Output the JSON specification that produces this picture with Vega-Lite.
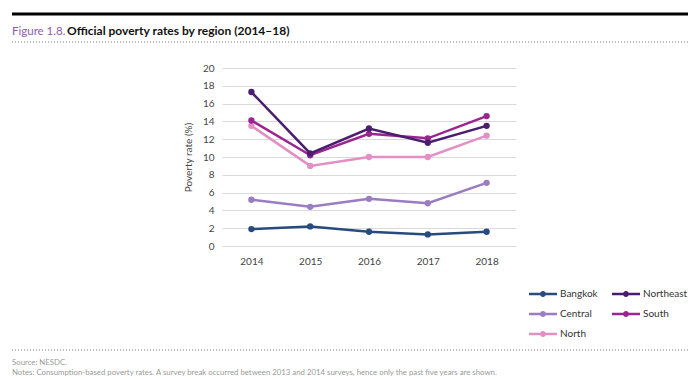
{
  "$schema": "https://vega.github.io/schema/vega-lite/v6.json",
  "background": "white",
  "padding": {"left": 10, "right": 10, "top": 0, "bottom": 0},
  "bounds": "flush",
  "spacing": 0,
  "config": {
    "font": "Lato",
    "view": {"stroke": null},
    "title": {"anchor": "start", "frame": "group"}
  },
  "vconcat": [
    {"width": 676, "height": 14, "data": {"values": []}, "mark": "point"},
    {
      "width": 676, "height": 1,
      "data": {"values": [{"k": 1}]},
      "mark": {"type": "rule", "color": "#000000", "strokeWidth": 3},
      "encoding": {"y": {"datum": 0, "type": "quantitative", "axis": null}}
    },
    {"width": 676, "height": 27, "data": {"values": []}, "mark": "point"},
    {
      "hconcat": [
        {
          "width": 55, "height": 1,
          "data": {"values": [{"k": 1}]},
          "mark": {"type": "rule", "color": "#777777", "strokeWidth": 1, "strokeDash": [1, 2]},
          "encoding": {"y": {"datum": 0, "type": "quantitative", "axis": null}},
          "title": {"text": "Figure 1.8.", "color": "#8a5bb0", "fontSize": 11.5, "fontWeight": "normal", "baseline": "alphabetic", "offset": 10, "dy": 15}
        },
        {
          "width": 621, "height": 1,
          "data": {"values": [{"k": 1}]},
          "mark": {"type": "rule", "color": "#777777", "strokeWidth": 1, "strokeDash": [1, 2]},
          "encoding": {"y": {"datum": 0, "type": "quantitative", "axis": null}},
          "title": {"text": "Official poverty rates by region (2014–18)", "color": "#111111", "fontSize": 12, "fontWeight": "bold", "baseline": "alphabetic", "offset": 10, "dy": 15}
        }
      ],
      "spacing": 0,
      "bounds": "flush"
    },
    {"width": 676, "height": 26, "data": {"values": []}, "mark": "point"},
    {
      "hconcat": [
        {"width": 210, "height": 178, "data": {"values": []}, "mark": "point"},
        {
          "width": 294, "height": 178,
          "data": {"values": [
            {"region": "Bangkok", "year": "2014", "rate": 1.9},
            {"region": "Bangkok", "year": "2015", "rate": 2.2},
            {"region": "Bangkok", "year": "2016", "rate": 1.6},
            {"region": "Bangkok", "year": "2017", "rate": 1.3},
            {"region": "Bangkok", "year": "2018", "rate": 1.6},
            {"region": "Central", "year": "2014", "rate": 5.2},
            {"region": "Central", "year": "2015", "rate": 4.4},
            {"region": "Central", "year": "2016", "rate": 5.3},
            {"region": "Central", "year": "2017", "rate": 4.8},
            {"region": "Central", "year": "2018", "rate": 7.1},
            {"region": "North", "year": "2014", "rate": 13.5},
            {"region": "North", "year": "2015", "rate": 9.0},
            {"region": "North", "year": "2016", "rate": 10.0},
            {"region": "North", "year": "2017", "rate": 10.0},
            {"region": "North", "year": "2018", "rate": 12.4},
            {"region": "South", "year": "2014", "rate": 14.1},
            {"region": "South", "year": "2015", "rate": 10.2},
            {"region": "South", "year": "2016", "rate": 12.6},
            {"region": "South", "year": "2017", "rate": 12.1},
            {"region": "South", "year": "2018", "rate": 14.6},
            {"region": "Northeast", "year": "2014", "rate": 17.3},
            {"region": "Northeast", "year": "2015", "rate": 10.4},
            {"region": "Northeast", "year": "2016", "rate": 13.2},
            {"region": "Northeast", "year": "2017", "rate": 11.6},
            {"region": "Northeast", "year": "2018", "rate": 13.5}
          ]},
          "encoding": {
            "x": {
              "field": "year", "type": "ordinal",
              "axis": {"title": null, "labelAngle": 0, "domain": false, "ticks": false, "grid": false, "labelPadding": 10, "labelFontSize": 10, "labelColor": "#444444", "labelFont": "Lato"}
            },
            "y": {
              "field": "rate", "type": "quantitative",
              "scale": {"domain": [0, 20], "nice": false},
              "axis": {"values": [0, 2, 4, 6, 8, 10, 12, 14, 16, 18, 20], "domain": false, "ticks": false, "grid": true, "gridColor": "#d9d9d9", "gridWidth": 1, "labelPadding": 8, "labelFontSize": 10, "labelColor": "#444444", "labelFont": "Lato", "title": "Poverty rate (%)", "titleFontSize": 10, "titleFontWeight": "normal", "titleColor": "#444444", "titleFont": "Lato", "titlePadding": 9}
            },
            "color": {
              "field": "region", "type": "nominal",
              "scale": {"domain": ["Bangkok", "Central", "North", "Northeast", "South"], "range": ["#274b7e", "#9a7cc0", "#e38fc4", "#4a1e6e", "#9b2590"]},
              "legend": {
                "title": null, "orient": "none", "legendX": 517, "legendY": 288,
                "direction": "vertical", "columns": 2,
                "symbolType": "M-1,-0.21L3.67,-0.21L3.67,0.21L-1,0.21Z M1.83,0A0.5,0.5,0,1,1,0.83,0A0.5,0.5,0,1,1,1.83,0Z",
                "symbolSize": 144, "symbolStrokeWidth": 0, "symbolOpacity": 1,
                "labelOffset": 19, "labelFontSize": 10, "labelColor": "#333333", "labelFont": "Lato",
                "rowPadding": 9, "columnPadding": 14,
                "encode": {"symbols": {"update": {"fill": {"scale": "color", "field": "value"}, "opacity": {"value": 1}}}}
              }
            }
          },
          "layer": [
            {"mark": {"type": "line", "strokeWidth": 2.5}},
            {"mark": {"type": "point", "filled": true, "size": 40, "opacity": 1}}
          ]
        }
      ],
      "spacing": 0,
      "bounds": "flush"
    },
    {"width": 676, "height": 282, "data": {"values": []}, "mark": "point"},
    {
      "width": 676, "height": 1,
      "data": {"values": [{"k": 1}]},
      "mark": {"type": "rule", "color": "#777777", "strokeWidth": 1, "strokeDash": [1, 2]},
      "encoding": {"y": {"datum": 0, "type": "quantitative", "axis": null}},
      "title": {
        "text": ["Source: NESDC.", "Notes: Consumption-based poverty rates. A survey break occurred between 2013 and 2014 surveys, hence only the past five years are shown."],
        "orient": "bottom", "fontSize": 7.8, "fontWeight": "normal", "color": "#9a9a9a", "lineHeight": 10, "offset": 8, "baseline": "top"
      }
    }
  ]
}
